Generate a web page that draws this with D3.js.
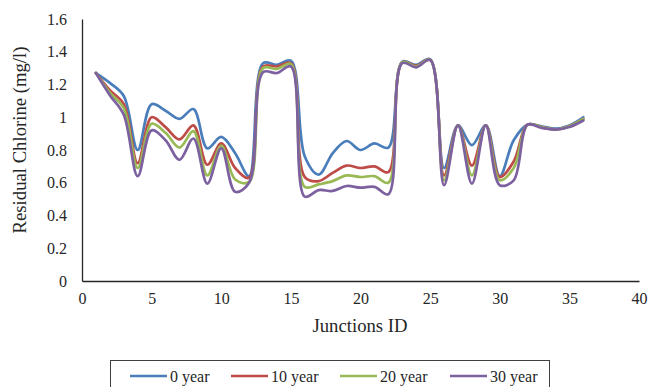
<!DOCTYPE html>
<html>
<head>
<meta charset="utf-8">
<script src="https://cdn.jsdelivr.net/npm/d3@7"></script>
<style>
  body { margin: 0; background: #fff; }
  svg text { font-family: 'Liberation Serif', 'Times New Roman', serif; fill: #262626; }
</style>
</head>
<body>
<div id="chart"></div>
<script>
// junction ids on the x axis
const junctions = [1, 2, 3, 4, 5, 6, 7, 8, 9, 10, 11, 12, 13, 14, 15, 16, 17, 18,
  19, 20, 21, 22, 23, 24, 25, 26, 27, 28, 29, 30, 31, 32, 33, 34, 35, 36];

// residual chlorine (mg/l) per age of the network
const year0 = [1.27, 1.21, 1.13, 0.80, 1.08, 1.04, 0.99, 1.05, 0.81, 0.88, 0.78, 0.64,
  1.33, 1.32, 1.345, 0.76, 0.65, 0.78, 0.855, 0.80, 0.84, 0.815, 1.34, 1.32, 1.355,
  0.69, 0.95, 0.83, 0.95, 0.64, 0.86, 0.955, 0.945, 0.93, 0.95, 1.0];
const year10 = [1.27, 1.165, 1.08, 0.72, 1.0, 0.94, 0.865, 0.95, 0.71, 0.84, 0.69, 0.63,
  1.31, 1.31, 1.33, 0.635, 0.61, 0.66, 0.705, 0.69, 0.70, 0.665, 1.335, 1.315, 1.35,
  0.645, 0.95, 0.705, 0.95, 0.635, 0.73, 0.955, 0.94, 0.925, 0.945, 0.99];
const year20 = [1.27, 1.15, 1.055, 0.69, 0.96, 0.905, 0.815, 0.915, 0.645, 0.825, 0.62, 0.605,
  1.30, 1.295, 1.325, 0.575, 0.59, 0.61, 0.645, 0.635, 0.64, 0.60, 1.335, 1.31, 1.35,
  0.615, 0.95, 0.645, 0.95, 0.615, 0.69, 0.955, 0.94, 0.925, 0.945, 0.99];
const year30 = [1.27, 1.135, 1.015, 0.64, 0.92, 0.86, 0.74, 0.87, 0.595, 0.81, 0.545, 0.60,
  1.275, 1.27, 1.31, 0.515, 0.555, 0.55, 0.58, 0.57, 0.575, 0.53, 1.33, 1.305, 1.35,
  0.585, 0.95, 0.595, 0.95, 0.585, 0.615, 0.955, 0.935, 0.925, 0.94, 0.98];

const seriesNames = ["0 year", "10 year", "20 year", "30 year"];
const xTicks = [0, 5, 10, 15, 20, 25, 30, 35, 40];
const yTicks = [0, 0.2, 0.4, 0.6, 0.8, 1, 1.2, 1.4, 1.6];

const colors = ["#4a7ebb", "#be4b48", "#98b954", "#7d60a0"];
const seriesValues = [year0, year10, year20, year30];

var width = 649, height = 387;
var margin = { top: 19, right: 10, bottom: 106, left: 82 };
var serif = "'Liberation Serif', 'Times New Roman', serif";

var svg = d3.select("#chart")
  .append("svg")
  .attr("width", width)
  .attr("height", height);

var x = d3.scaleLinear().domain([0, 40]).range([margin.left, 639]);
var y = d3.scaleLinear().domain([0, 1.6]).range([281, margin.top]);

// axes without tick marks, like the Excel chart
var xAxis = svg.append("g")
  .attr("transform", "translate(0,281)")
  .call(d3.axisBottom(x).tickValues(xTicks).tickSize(0).tickPadding(12).tickFormat(d3.format("d")));
var yAxis = svg.append("g")
  .attr("transform", "translate(" + margin.left + ",0)")
  .call(d3.axisLeft(y).tickValues(yTicks).tickSize(0).tickPadding(15).tickFormat(d => d3.format("~g")(d)));

[xAxis, yAxis].forEach(function (a) {
  a.attr("font-family", serif).attr("font-size", 16);
  a.select(".domain").attr("stroke", "#262626").attr("stroke-width", 1.3);
  a.selectAll("text").attr("fill", "#262626");
});

// smoothed lines
var line = d3.line()
  .x(function (d, i) { return x(junctions[i]); })
  .y(function (d) { return y(d); })
  .curve(d3.curveCatmullRom.alpha(0.5));

svg.selectAll(".series")
  .data(seriesValues)
  .enter()
  .append("path")
  .attr("class", "series")
  .attr("d", line)
  .attr("fill", "none")
  .attr("stroke", function (d, i) { return colors[i]; })
  .attr("stroke-width", 2.7)
  .attr("stroke-linejoin", "round")
  .attr("stroke-linecap", "round");

// axis titles
svg.append("text")
  .attr("x", 360)
  .attr("y", 332)
  .attr("text-anchor", "middle")
  .style("font-size", "18.7px")
  .text("Junctions ID");

svg.append("text")
  .attr("transform", "translate(26,140) rotate(-90)")
  .attr("text-anchor", "middle")
  .style("font-size", "18.7px")
  .text("Residual Chlorine (mg/l)");

// legend
svg.append("rect")
  .attr("x", 110.5)
  .attr("y", 360.5)
  .attr("width", 439)
  .attr("height", 40)
  .attr("fill", "none")
  .attr("stroke", "#404040")
  .attr("stroke-width", 1);

var legendX = [130, 231, 340, 450];
var legend = svg.selectAll(".legend")
  .data(seriesNames)
  .enter()
  .append("g")
  .attr("class", "legend")
  .attr("transform", function (d, i) { return "translate(" + legendX[i] + ",376)"; });

legend.append("line")
  .attr("x1", 0).attr("x2", 37)
  .attr("y1", 0).attr("y2", 0)
  .attr("stroke", function (d, i) { return colors[i]; })
  .attr("stroke-width", 2.7);

legend.append("text")
  .attr("x", 40)
  .attr("y", 5.5)
  .style("font-size", "16px")
  .text(function (d) { return d; });
</script>
</body>
</html>
